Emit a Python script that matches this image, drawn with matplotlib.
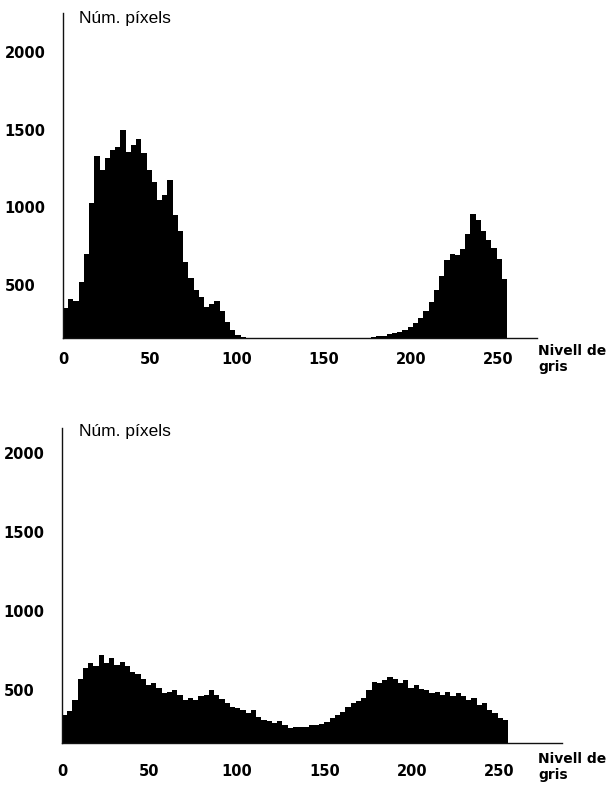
import numpy as np
import matplotlib
matplotlib.use("Agg")
import matplotlib.pyplot as plt

# Gray-level bins (3 levels per bin, 0..255)
bin_edges = np.arange(0, 258, 3)

# Upper histogram (bimodal image)
counts_top = [
    352, 410, 400, 520, 700, 1030, 1330, 1240, 1317, 1370,
    1388, 1500, 1356, 1400, 1440, 1350, 1240, 1160, 1050, 1080,
    1176, 950, 850, 650, 545, 470, 420, 360, 380, 400,
    330, 260, 210, 180, 165,
    0, 0, 0, 0, 0, 0, 0, 0, 0, 0, 0, 0,
    0, 0, 0, 0, 0, 0, 0, 0, 0, 0, 0,
    162, 166, 170, 175, 182, 190, 200, 212, 232, 255,
    285, 330, 390, 470, 560, 660, 700, 690, 730, 830,
    960, 920, 850, 790, 740, 670, 540,
]

# Lower histogram (flatter image)
counts_bottom = [
    342, 365, 440, 570, 640, 671, 650, 721, 671, 702,
    658, 677, 650, 614, 601, 570, 532, 544, 513, 481,
    488, 500, 468, 437, 450, 437, 462, 468, 500, 468,
    445, 418, 393, 387, 373, 355, 373, 330, 310, 304,
    291, 304, 279, 260, 266, 266, 266, 279, 279, 285,
    298, 323, 340, 361, 393, 418, 430, 450, 500, 551,
    544, 563, 582, 570, 544, 563, 513, 532, 504, 500,
    481, 488, 468, 488, 462, 481, 462, 437, 450, 405,
    418, 373, 355, 323, 310,
]

x_ticks = [0, 50, 100, 150, 200, 250]
y_ticks = [500, 1000, 1500, 2000]
y_label = "Núm. píxels"
x_label = "Nivell de\ngris"

W, H = 616, 786


def px_box(left, top, right, bottom):
    return [left / W, 1 - bottom / H, (right - left) / W, (bottom - top) / H]


def draw_panel(fig, box, counts, ylim, xmax, tick_pad, ylab_y, xlab_y):
    ax = fig.add_axes(box)
    ax.stairs(counts, bin_edges, fill=True, color="black", baseline=0, zorder=2)
    ax.set_xlim(0, xmax)
    ax.set_ylim(*ylim)
    for s in ["top", "right"]:
        ax.spines[s].set_visible(False)
    for s in ["left", "bottom"]:
        ax.spines[s].set_linewidth(1.0)
        ax.spines[s].set_color("#111111")
    ax.set_xticks(x_ticks)
    ax.set_yticks(y_ticks)
    ax.tick_params(length=0)
    ax.tick_params(axis="x", pad=tick_pad)
    ax.tick_params(axis="y", pad=42)
    for lab in ax.get_xticklabels() + ax.get_yticklabels():
        lab.set_fontfamily("DejaVu Sans")
        lab.set_fontweight("bold")
        lab.set_fontsize(10.5)
    for lab in ax.get_yticklabels():
        lab.set_horizontalalignment("left")

    fig.text(79 / W, 1 - ylab_y / H, y_label, fontsize=12.5,
             family="Liberation Sans", va="center", ha="left")
    fig.text(538 / W, 1 - xlab_y / H, x_label, fontsize=10,
             family="DejaVu Sans", fontweight="bold", va="top", ha="left",
             linespacing=1.15)
    return ax


fig = plt.figure(figsize=(W / 100, H / 100), dpi=100)

draw_panel(fig, px_box(63, 13, 537, 338), counts_top, (159, 2250),
           (537 - 63) / 1.741, 10, 19, 344)
draw_panel(fig, px_box(62, 428, 562, 743), counts_bottom, (165, 2158),
           (562 - 62) / 1.749, 15, 431, 752)

fig.savefig("out.png", dpi=100)
